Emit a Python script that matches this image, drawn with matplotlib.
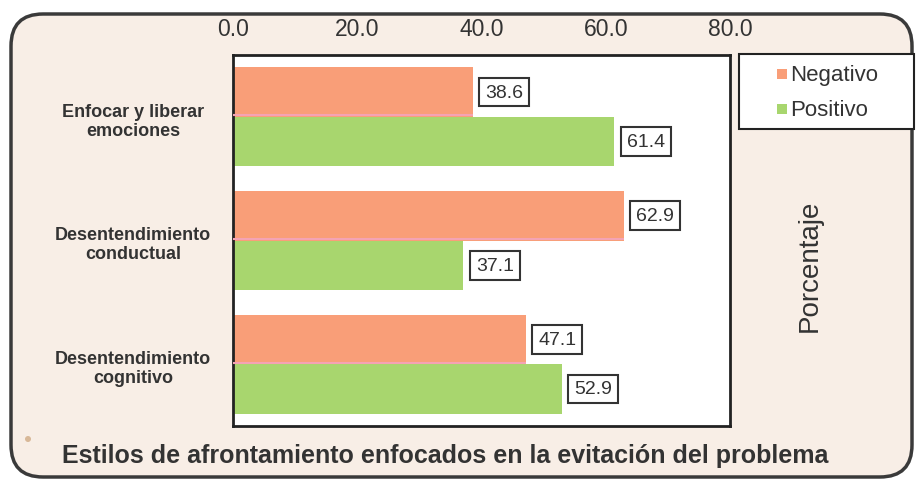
import matplotlib
matplotlib.use("Agg")
import matplotlib.pyplot as plt
import matplotlib.transforms as mtransforms
from matplotlib.patches import FancyBboxPatch, Rectangle, Ellipse
import numpy as np

plt.rcParams['font.family'] = ['Liberation Sans', 'DejaVu Sans']

categories = ["Enfocar y liberar\nemociones",
              "Desentendimiento\nconductual",
              "Desentendimiento\ncognitivo"]
negativo = [38.6, 62.9, 47.1]
positivo = [61.4, 37.1, 52.9]
series_names = ["Negativo", "Positivo"]
x_ticks = [0.0, 20.0, 40.0, 60.0, 80.0]
x_label = "Porcentaje"
title = "Estilos de afrontamiento enfocados en la evitación del problema"

c_neg = "#F99E78"
c_pos = "#A8D66E"
c_bg = "#F8EEE6"
c_text = "#333333"

W, H = 916, 481
fig = plt.figure(figsize=(W / 100, H / 100), dpi=100)
fig.patch.set_facecolor("white")

# rounded panel behind everything
panel = FancyBboxPatch((11 / W, 3 / H), 901 / W, 463 / H,
                       boxstyle="round,pad=0,rounding_size=0.035",
                       transform=fig.transFigure, facecolor=c_bg,
                       edgecolor="#3a3a3a", linewidth=2.5, zorder=-5,
                       mutation_aspect=W / H)
fig.patches.append(panel)
fig.patches.append(Ellipse((28 / W, 1 - 440 / H), 6 / W, 6 / H, transform=fig.transFigure,
                           facecolor="#D8B898", edgecolor="none", zorder=-4))

ax = fig.add_axes([233 / W, 54 / H, 497 / W, 371 / H])
ax.set_zorder(2)
ax.set_facecolor("white")

y = np.arange(len(categories))
h = 0.4
ax.barh(y - h / 2, negativo, height=h, color=c_neg, edgecolor="none", zorder=2)
ax.barh(y + h / 2, positivo, height=h, color=c_pos, edgecolor="none", zorder=2)
# thin pink seam along the lower edge of the orange bars
for yi, v in zip(y, negativo):
    ax.plot([0, v], [yi - 0.012, yi - 0.012], color="#F4A3B4", lw=1.5, zorder=3,
            solid_capstyle="butt")

ax.set_xlim(0, 80)
ax.set_ylim(len(categories) - 0.5, -0.5)
ax.xaxis.tick_top()
ax.set_xticks(x_ticks)
ax.set_xticklabels([f"{t:.1f}" for t in x_ticks], fontsize=16.5, color=c_text)
ax.tick_params(axis="x", length=0, pad=11)
ax.set_yticks([])
for s in ax.spines.values():
    s.set_linewidth(2)
    s.set_color("#222222")

box = dict(boxstyle="square,pad=0.3", facecolor="white", edgecolor="#333333", linewidth=1.5)
for yi, v in zip(y, negativo):
    ax.annotate(f"{v:.1f}", (v, yi - h / 2), xytext=(9, 0), textcoords="offset points",
                ha="left", va="center", fontsize=14, color=c_text, bbox=box, zorder=4)
for yi, v in zip(y, positivo):
    ax.annotate(f"{v:.1f}", (v, yi + h / 2), xytext=(9, 0), textcoords="offset points",
                ha="left", va="center", fontsize=14, color=c_text, bbox=box, zorder=4)

# category labels to the left of the plot area
trans = mtransforms.blended_transform_factory(fig.transFigure, ax.transData)
for yi, lab in zip(y, categories):
    ax.text(133 / W, yi + 0.03, lab, transform=trans, ha="center", va="center",
            multialignment="center", fontsize=13, fontweight="bold",
            color=c_text, linespacing=1.15, clip_on=False)

# legend box
fig.patches.append(Rectangle((739 / W, 1 - 130 / H), 175 / W, 75 / H,
                             transform=fig.transFigure, facecolor="white",
                             edgecolor="#222222", linewidth=1.5, zorder=3))
for i, (name, col) in enumerate(zip(series_names, [c_neg, c_pos])):
    yc = 75 + 35 * i
    fig.patches.append(Rectangle((777 / W, 1 - (yc + 5) / H), 10 / W, 10 / H,
                                 transform=fig.transFigure, facecolor=col,
                                 edgecolor="none", zorder=4))
    fig.text(790 / W, 1 - yc / H, name, ha="left", va="center", fontsize=16,
             color=c_text, zorder=5)

fig.text(810 / W, 1 - 266 / H, x_label, rotation=90, ha="center", va="center",
         fontsize=20, color=c_text)
fig.text(62 / W, 1 - 456 / H, title, ha="left", va="center", fontsize=18,
         fontweight="bold", color=c_text)

fig.savefig("out.png", dpi=100, facecolor=fig.get_facecolor())
